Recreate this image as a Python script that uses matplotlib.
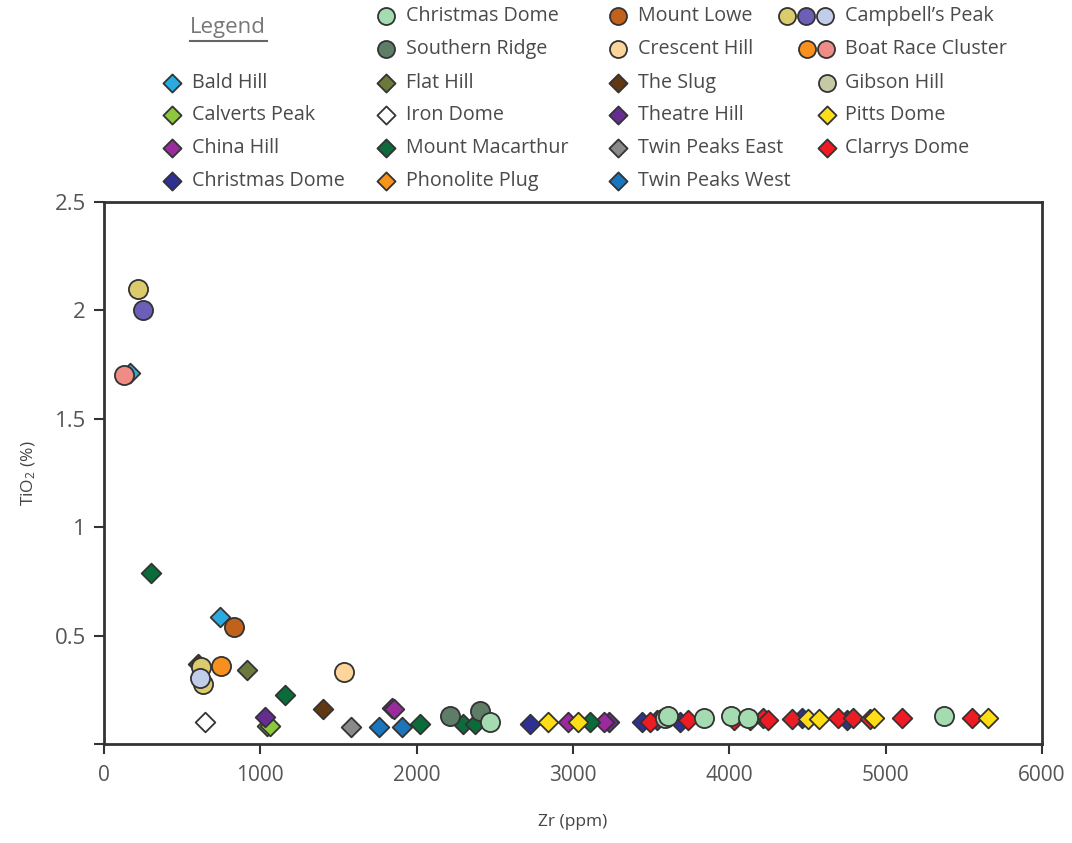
import matplotlib
matplotlib.use("Agg")
import matplotlib.pyplot as plt
from matplotlib.ticker import FuncFormatter, MultipleLocator

plt.rcParams['font.family'] = ['Open Sans', 'DejaVu Sans']
plt.rcParams['mathtext.fontset'] = 'custom'
plt.rcParams['mathtext.rm'] = 'Open Sans'
plt.rcParams['mathtext.it'] = 'Open Sans'

EDGE = '#333333'
TXT = '#4a4a4a'

# circle groups (zr ppm, tio2 %)
christmas_c_zr = [2470, 3590, 3610, 3838, 4010, 4120, 5374]
christmas_c_ti = [0.10, 0.12, 0.13, 0.12, 0.13, 0.12, 0.13]
southern_zr = [2214, 2406]
southern_ti = [0.13, 0.15]
lowe_zr = [832]
lowe_ti = [0.54]
crescent_zr = [1535]
crescent_ti = [0.33]
campbell_y_zr = [218, 620, 633]
campbell_y_ti = [2.10, 0.355, 0.275]
campbell_p_zr = [250]
campbell_p_ti = [2.00]
campbell_b_zr = [614]
campbell_b_ti = [0.305]
boat_o_zr = [749]
boat_o_ti = [0.36]
boat_p_zr = [128]
boat_p_ti = [1.70]

# diamond groups
bald_zr = [165, 742]
bald_ti = [1.71, 0.585]
calverts_zr = [1040, 1065]
calverts_ti = [0.085, 0.085]
china_zr = [1843, 1855, 2970, 3200]
china_ti = [0.165, 0.16, 0.10, 0.10]
theatre_zr = [1030, 3230, 3540]
theatre_ti = [0.125, 0.10, 0.11]
christmas_d_zr = [2725, 3440, 3685, 4466, 4754]
christmas_d_ti = [0.09, 0.10, 0.10, 0.12, 0.11]
flat_zr = [915]
flat_ti = [0.34]
iron_zr = [646]
iron_ti = [0.10]
macarthur_zr = [300, 1158, 2022, 2297, 2374, 3110]
macarthur_ti = [0.79, 0.225, 0.09, 0.09, 0.09, 0.10]
slug_zr = [600, 1401]
slug_ti = [0.37, 0.16]
tpe_zr = [1580]
tpe_ti = [0.08]
tpw_zr = [1760, 1907]
tpw_ti = [0.08, 0.08]
pitts_zr = [2840, 3030, 4130, 4504, 4575, 4926, 5656]
pitts_ti = [0.10, 0.10, 0.11, 0.115, 0.115, 0.12, 0.12]
clarrys_zr = [3493, 3736, 4030, 4216, 4248, 4400, 4696, 4792, 4900, 5106, 5553]
clarrys_ti = [0.10, 0.11, 0.11, 0.12, 0.11, 0.115, 0.12, 0.12, 0.115, 0.12, 0.12]

C = {
    'christmas_c': '#a5dbb0', 'southern': '#5e7d67', 'lowe': '#c0611c',
    'crescent': '#fdd49a', 'camp_y': '#dccb6c', 'camp_p': '#6c5fb8',
    'camp_b': '#c2cdea', 'boat_o': '#f7901e', 'boat_p': '#f08c86',
    'gibson': '#c5c9a6', 'bald': '#29abe2', 'calverts': '#8dc63f',
    'china': '#9b2a9e', 'christmas_d': '#2e3192', 'flat': '#6b7a3a',
    'iron': '#ffffff', 'macarthur': '#0b6b3a', 'phonolite': '#f7941d',
    'slug': '#603913', 'theatre': '#662d91', 'tpe': '#8a8a8a',
    'tpw': '#1b75bc', 'pitts': '#ffde17', 'clarrys': '#ed1c24',
}

S_CIRC = 190
S_DIAM = 100

fig = plt.figure(figsize=(10.72, 8.43), dpi=100)
ax = fig.add_axes([104 / 1072, 1 - 744 / 843, 938 / 1072, 542 / 843])


def circ(a, x, y, c, s=S_CIRC):
    a.scatter(x, y, s=s, marker='o', c=c, edgecolors=EDGE, linewidths=1.3, zorder=3)


def diam(a, x, y, c, s=S_DIAM):
    a.scatter(x, y, s=s, marker='D', c=c, edgecolors=EDGE, linewidths=1.3, zorder=3)


diam(ax, bald_zr, bald_ti, C['bald'])
diam(ax, slug_zr, slug_ti, C['slug'])
diam(ax, calverts_zr, calverts_ti, C['calverts'])
diam(ax, theatre_zr, theatre_ti, C['theatre'])
diam(ax, china_zr, china_ti, C['china'])
diam(ax, christmas_d_zr, christmas_d_ti, C['christmas_d'])
diam(ax, flat_zr, flat_ti, C['flat'])
diam(ax, iron_zr, iron_ti, C['iron'])
diam(ax, macarthur_zr, macarthur_ti, C['macarthur'])
diam(ax, tpe_zr, tpe_ti, C['tpe'])
diam(ax, tpw_zr, tpw_ti, C['tpw'])
diam(ax, clarrys_zr, clarrys_ti, C['clarrys'])
diam(ax, pitts_zr, pitts_ti, C['pitts'])

circ(ax, boat_p_zr, boat_p_ti, C['boat_p'])
circ(ax, campbell_y_zr, campbell_y_ti, C['camp_y'])
circ(ax, campbell_p_zr, campbell_p_ti, C['camp_p'])
circ(ax, campbell_b_zr, campbell_b_ti, C['camp_b'])
circ(ax, boat_o_zr, boat_o_ti, C['boat_o'])
circ(ax, lowe_zr, lowe_ti, C['lowe'])
circ(ax, crescent_zr, crescent_ti, C['crescent'])
circ(ax, southern_zr, southern_ti, C['southern'])
circ(ax, christmas_c_zr, christmas_c_ti, C['christmas_c'])

ax.set_xlim(0, 6000)
ax.set_ylim(0, 2.5)
ax.xaxis.set_major_locator(MultipleLocator(1000))
ax.yaxis.set_major_locator(MultipleLocator(0.5))
ax.yaxis.set_major_formatter(FuncFormatter(lambda v, p: '' if v == 0 else '%g' % v))
for sp in ax.spines.values():
    sp.set_color(EDGE)
    sp.set_linewidth(2)
ax.tick_params(direction='out', length=7, width=1.5, color=EDGE,
               labelcolor='#555555', pad=6)
ax.tick_params(axis='y', labelsize=16)
ax.tick_params(axis='x', labelsize=15, pad=8)
ax.set_xlabel('Zr (ppm)', fontsize=12.5, color='#444444', labelpad=20)
ax.set_ylabel('TiO$_2$ (%)', fontsize=12.5, color='#444444', labelpad=12)

# legend block drawn in figure pixel coordinates
lg = fig.add_axes([0, 0, 1, 1], zorder=-1)
lg.set_xlim(0, 1072)
lg.set_ylim(843, 0)
lg.axis('off')

lg.text(228, 27, 'Legend', fontsize=16, color='#777777', ha='center', va='center')
lg.plot([190, 267], [41, 41], color='#666666', lw=1.5)

rows = [16, 49, 83, 115, 148, 181]
entries = [
    # (marker x list, colours, shape, text x, row, label)
    ([172], [C['bald']], 'D', 192, 2, 'Bald Hill'),
    ([172], [C['calverts']], 'D', 192, 3, 'Calverts Peak'),
    ([172], [C['china']], 'D', 192, 4, 'China Hill'),
    ([172], [C['christmas_d']], 'D', 192, 5, 'Christmas Dome'),
    ([386], [C['christmas_c']], 'o', 406, 0, 'Christmas Dome'),
    ([386], [C['southern']], 'o', 406, 1, 'Southern Ridge'),
    ([386], [C['flat']], 'D', 406, 2, 'Flat Hill'),
    ([386], [C['iron']], 'D', 406, 3, 'Iron Dome'),
    ([386], [C['macarthur']], 'D', 406, 4, 'Mount Macarthur'),
    ([386], [C['phonolite']], 'D', 406, 5, 'Phonolite Plug'),
    ([618], [C['lowe']], 'o', 638, 0, 'Mount Lowe'),
    ([618], [C['crescent']], 'o', 638, 1, 'Crescent Hill'),
    ([618], [C['slug']], 'D', 638, 2, 'The Slug'),
    ([618], [C['theatre']], 'D', 638, 3, 'Theatre Hill'),
    ([618], [C['tpe']], 'D', 638, 4, 'Twin Peaks East'),
    ([618], [C['tpw']], 'D', 638, 5, 'Twin Peaks West'),
    ([787, 806, 825], [C['camp_y'], C['camp_p'], C['camp_b']], 'o', 845, 0, 'Campbell\u2019s Peak'),
    ([807, 826], [C['boat_o'], C['boat_p']], 'o', 845, 1, 'Boat Race Cluster'),
    ([827], [C['gibson']], 'o', 845, 2, 'Gibson Hill'),
    ([827], [C['pitts']], 'D', 845, 3, 'Pitts Dome'),
    ([827], [C['clarrys']], 'D', 845, 4, 'Clarrys Dome'),
]
for xs, cols, shape, tx, r, label in entries:
    y = rows[r]
    for mx, mc in zip(xs, cols):
        if shape == 'o':
            circ(lg, mx, y, mc, s=150)
        else:
            diam(lg, mx, y, mc, s=85)
    lg.text(tx, y, label, fontsize=14.2, color=TXT, ha='left', va='center')

fig.savefig('out.png', dpi=100)
